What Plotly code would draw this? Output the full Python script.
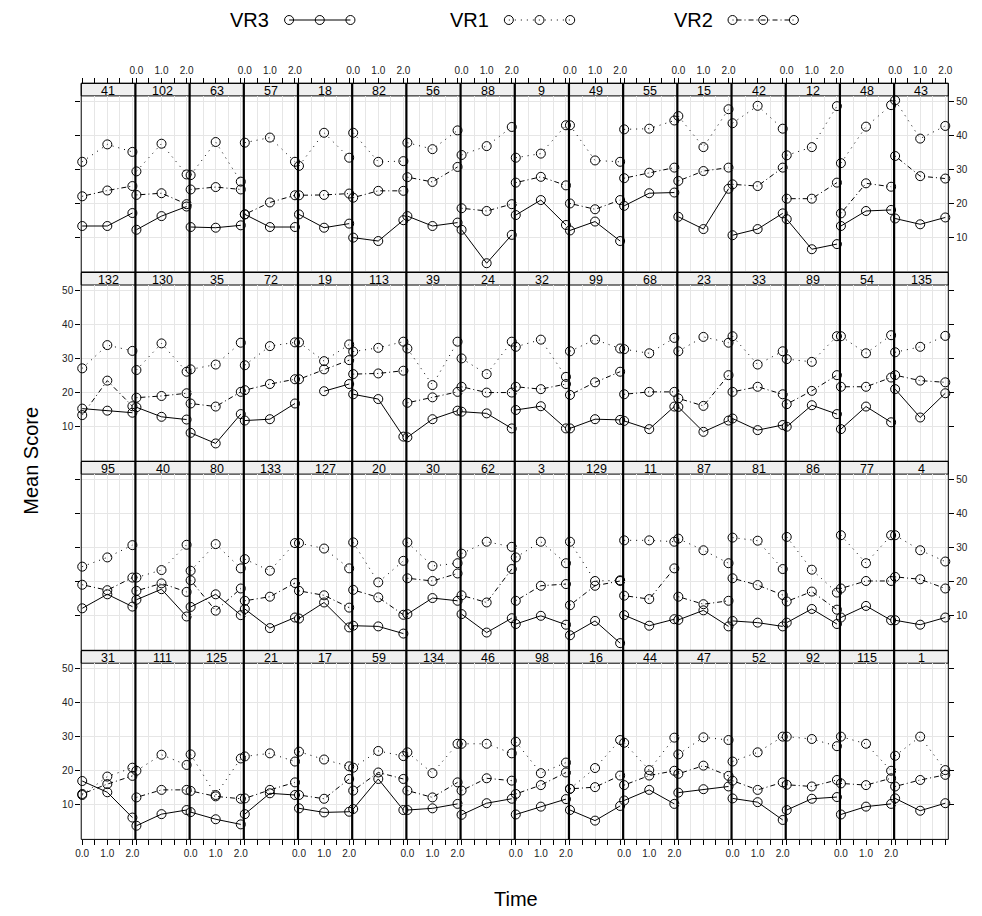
import plotly.graph_objects as go

# Subject panels, laid out row by row (4 rows x 16 columns)
subject_ids = [
    41, 102, 63, 57, 18, 82, 56, 88, 9, 49, 55, 15, 42, 12, 48, 43,
    132, 130, 35, 72, 19, 113, 39, 24, 32, 99, 68, 23, 33, 89, 54, 135,
    95, 40, 80, 133, 127, 20, 30, 62, 3, 129, 11, 87, 81, 86, 77, 4,
    31, 111, 125, 21, 17, 59, 134, 46, 98, 16, 44, 47, 52, 92, 115, 1,
]

time_points = [0.0, 1.0, 2.0]

# Mean score per subject at times 0, 1, 2
vr1 = [
    (32.2, 37.3, 35.1), (29.4, 37.5, 28.5), (28.3, 38.0, 26.4), (37.8, 39.3, 32.2),
    (31.0, 40.7, 33.4), (40.7, 32.2, 32.4), (37.8, 35.9, 41.4), (34.2, 36.8, 42.4),
    (33.4, 34.6, 42.9), (42.9, 32.6, 32.2), (41.7, 41.9, 44.3), (45.6, 36.5, 47.6),
    (43.5, 48.6, 41.9), (34.1, 36.5, 48.5), (31.8, 42.5, 48.8), (50.2, 39.0, 42.7),
    (27.1, 33.9, 32.2), (26.6, 34.4, 26.1), (26.8, 28.2, 34.6), (28.0, 33.6, 34.7),
    (34.7, 29.2, 34.1), (32.0, 33.1, 34.9), (32.9, 22.2, 34.9), (30.0, 25.4, 34.9),
    (33.4, 35.5, 24.6), (32.1, 35.5, 32.9), (32.7, 31.5, 36.0), (32.1, 36.3, 34.6),
    (36.5, 28.2, 32.1), (29.8, 29.0, 36.5), (36.5, 31.5, 36.8), (31.8, 33.4, 36.6),
    (24.4, 27.1, 30.7), (21.2, 23.4, 30.8), (23.2, 31.0, 23.9), (26.6, 23.2, 31.3),
    (31.3, 29.7, 23.9), (31.5, 19.8, 26.1), (31.5, 24.6, 25.4), (28.2, 31.7, 30.2),
    (27.1, 31.7, 25.4), (31.7, 20.2, 20.4), (32.1, 32.1, 31.7), (32.6, 29.2, 25.4),
    (32.9, 32.0, 23.7), (33.1, 23.5, 16.8), (33.6, 25.4, 33.6), (33.6, 29.2, 25.9),
    (12.9, 18.3, 20.9), (20.0, 24.7, 21.7), (24.8, 12.9, 23.6), (24.2, 25.1, 22.7),
    (25.6, 23.3, 21.3), (20.9, 25.8, 24.3), (25.4, 19.3, 27.9), (27.9, 27.9, 25.1),
    (28.5, 19.3, 22.4), (14.7, 20.8, 29.0), (28.2, 20.2, 29.7), (24.8, 29.8, 29.0),
    (22.7, 25.4, 30.0), (30.0, 29.3, 27.2), (30.0, 27.9, 20.0), (24.4, 30.0, 20.2),
]

vr2 = [
    (22.1, 23.8, 25.1), (22.5, 23.0, 19.8), (24.1, 24.8, 24.1), (16.8, 20.3, 22.4),
    (22.4, 22.5, 22.9), (21.7, 23.7, 23.7), (27.7, 26.3, 30.7), (18.6, 17.8, 19.8),
    (26.1, 27.8, 25.3), (20.0, 18.3, 21.0), (27.4, 29.0, 30.5), (26.6, 29.5, 30.5),
    (25.6, 25.1, 30.5), (21.4, 21.4, 26.1), (17.1, 25.9, 24.9), (33.9, 28.0, 27.3),
    (13.4, 23.5, 16.0), (18.5, 19.0, 19.8), (16.8, 15.9, 20.2), (20.7, 22.5, 23.9),
    (23.9, 26.8, 29.5), (25.4, 25.6, 26.4), (17.0, 18.6, 20.2), (21.7, 20.0, 20.0),
    (21.7, 21.0, 22.5), (19.3, 23.0, 26.1), (19.5, 20.2, 20.2), (18.3, 16.1, 25.1),
    (20.2, 21.7, 19.5), (16.6, 20.5, 25.1), (21.7, 21.7, 24.4), (25.1, 23.5, 23.0),
    (19.1, 17.5, 21.2), (17.3, 19.5, 17.0), (20.4, 11.5, 18.0), (14.4, 15.6, 19.6),
    (17.3, 16.0, 12.4), (17.6, 15.4, 10.3), (21.0, 20.2, 22.4), (16.0, 13.9, 23.7),
    (14.4, 18.8, 19.3), (13.1, 18.8, 20.2), (15.9, 14.9, 23.9), (15.6, 13.4, 14.4),
    (21.0, 19.0, 16.1), (14.2, 17.1, 11.8), (18.0, 20.2, 20.2), (21.4, 20.7, 18.0),
    (13.2, 16.1, 18.5), (12.2, 14.4, 14.4), (14.1, 12.5, 11.8), (11.9, 14.4, 16.6),
    (12.9, 11.8, 17.6), (14.2, 19.5, 17.6), (14.2, 12.2, 16.6), (14.2, 17.8, 17.1),
    (13.2, 15.8, 19.5), (14.7, 15.2, 18.6), (15.8, 18.6, 20.0), (19.1, 21.5, 18.5),
    (17.1, 14.4, 16.6), (15.9, 15.4, 17.3), (16.3, 15.8, 17.8), (15.4, 17.3, 18.8),
]

vr3 = [
    (13.4, 13.4, 17.2), (12.3, 16.3, 19.1), (13.1, 12.9, 13.6), (16.8, 13.1, 13.1),
    (16.8, 12.9, 14.1), (10.0, 9.0, 15.1), (16.3, 13.4, 14.4), (12.3, 2.5, 10.8),
    (16.6, 21.0, 13.7), (12.1, 14.7, 9.0), (19.3, 23.0, 23.2), (16.1, 12.5, 24.3),
    (10.7, 12.5, 17.1), (15.4, 6.6, 8.1), (13.4, 17.8, 18.1), (15.6, 13.9, 15.9),
    (15.3, 14.7, 14.1), (15.7, 12.9, 12.1), (8.2, 5.1, 13.7), (11.8, 12.2, 16.8),
    (None, 20.4, 22.5), (19.5, 18.1, 7.1), (6.9, 12.2, 14.7), (14.4, 13.9, 9.5),
    (14.9, 16.0, 9.5), (9.5, 12.2, 12.0), (11.7, 9.3, 15.9), (15.8, 8.5, 11.8),
    (12.4, 9.0, 10.5), (10.0, 16.3, 13.7), (9.3, 15.9, 11.3), (21.0, 12.7, 19.8),
    (12.2, 16.3, 12.7), (14.7, 17.8, 9.8), (12.6, 16.3, 10.2), (12.0, 6.4, 9.5),
    (9.2, 13.9, 6.6), (7.1, 6.9, 4.8), (10.5, 15.2, 14.4), (10.5, 5.1, 9.3),
    (7.6, 10.0, 7.4), (4.3, 8.5, 2.0), (10.2, 7.1, 9.0), (8.8, 11.6, 6.9),
    (8.5, 8.0, 6.9), (8.0, 12.0, 7.6), (9.5, 12.9, 8.7), (8.7, 7.4, 9.5),
    (17.0, 13.7, 6.3), (3.9, 7.3, 8.5), (7.9, 5.8, 4.3), (7.3, 13.4, 12.9),
    (9.0, 7.8, 8.0), (8.8, 17.6, 8.5), (8.5, 9.0, 10.3), (7.1, 10.5, 11.8),
    (7.2, 9.5, 11.7), (8.5, 5.4, 9.7), (11.3, 14.4, 10.3), (13.6, 14.6, 15.4),
    (11.9, 10.8, 5.6), (8.5, 11.8, 12.3), (7.2, 9.5, 10.3), (11.9, 8.3, 10.5),
]

x_ticks = [0.0, 0.5, 1.0, 1.5, 2.0]
x_ticktext = ["0.0", "", "1.0", "", "2.0"]
y_ticks = [10, 20, 30, 40, 50]

# Page geometry (pixels)
W, H = 982, 916
NCOL, NROW = 16, 4
LEFT0, PW = 76.0, 54.75
STRIP_TOP0, ROW_PITCH, STRIP_H, PH = 83.3, 189.1, 12.6, 176.2
FONT = "Liberation Sans, Arial, sans-serif"
GRID = "#e6e6e6"


def pxx(x):
    return x / W


def pxy(y):
    return 1 - y / H


series = [
    ("VR3", vr3, "solid"),
    ("VR1", vr1, "1px,5px"),
    ("VR2", vr2, "1px,3px,5px,3px"),
]

fig = go.Figure()
layout = {}
shapes = []
annotations = []

for k, sid in enumerate(subject_ids):
    r, c = divmod(k, NCOL)
    n = k + 1
    xname = "x" if n == 1 else f"x{n}"
    yname = "y" if n == 1 else f"y{n}"
    left = LEFT0 + PW * c
    right = left + PW
    strip_top = STRIP_TOP0 + ROW_PITCH * r
    panel_top = strip_top + STRIP_H
    panel_bot = panel_top + PH

    for name, vals, dash in series:
        fig.add_trace(go.Scatter(
            x=time_points, y=list(vals[k]), mode="lines+markers",
            xaxis=xname, yaxis=yname, name=name, showlegend=False,
            line=dict(color="black", width=1, dash=dash),
            marker=dict(symbol="circle-open", size=9, color="black",
                        line=dict(width=1, color="black")),
            connectgaps=False, cliponaxis=False,
        ))

    xa = dict(domain=[pxx(left), pxx(right)], range=[-0.04, 2.12],
              tickvals=x_ticks, showgrid=True, gridcolor=GRID, gridwidth=1,
              zeroline=False, showline=False, fixedrange=True,
              tickfont=dict(family=FONT, size=10, color="#222"))
    if r == 0:
        xa.update(anchor="free", position=pxy(strip_top), side="top",
                  ticks="outside", ticklen=5, tickcolor="black", tickwidth=1,
                  ticktext=x_ticktext if c % 2 == 1 else [""] * 5)
    elif r == NROW - 1:
        xa.update(anchor=yname, side="bottom", ticks="outside", ticklen=5,
                  tickcolor="black", tickwidth=1,
                  ticktext=x_ticktext if c % 2 == 0 else [""] * 5)
    else:
        xa.update(anchor=yname, ticks="", showticklabels=False)

    ya = dict(domain=[pxy(panel_bot), pxy(panel_top)], range=[-0.1, 51.5],
              tickvals=y_ticks, showgrid=True, gridcolor=GRID, gridwidth=1,
              zeroline=False, showline=False, fixedrange=True, anchor=xname,
              tickfont=dict(family=FONT, size=10, color="#222"))
    if c == 0:
        ya.update(side="left", ticks="outside", ticklen=5, tickcolor="black",
                  ticktext=[str(v) for v in y_ticks] if r % 2 == 1 else [""] * 5)
    elif c == NCOL - 1:
        ya.update(side="right", ticks="outside", ticklen=5, tickcolor="black",
                  ticktext=[str(v) for v in y_ticks] if r % 2 == 0 else [""] * 5)
    else:
        ya.update(ticks="", showticklabels=False)

    layout["xaxis" if n == 1 else f"xaxis{n}"] = xa
    layout["yaxis" if n == 1 else f"yaxis{n}"] = ya

    # strip with the subject id
    shapes.append(dict(type="rect", xref="paper", yref="paper",
                       x0=pxx(left), x1=pxx(right),
                       y0=pxy(panel_top), y1=pxy(strip_top),
                       fillcolor="#efefef", line=dict(color="black", width=1),
                       layer="below"))
    annotations.append(dict(text=str(sid), xref="paper", yref="paper",
                            x=pxx((left + right) / 2),
                            y=pxy(strip_top + STRIP_H / 2 + 1.5),
                            showarrow=False, xanchor="center", yanchor="middle",
                            font=dict(family=FONT, size=12.5, color="black")))

# row frames
for r in range(NROW):
    strip_top = STRIP_TOP0 + ROW_PITCH * r
    panel_bot = strip_top + STRIP_H + PH
    shapes.append(dict(type="rect", xref="paper", yref="paper",
                       x0=pxx(LEFT0), x1=pxx(LEFT0 + PW * NCOL),
                       y0=pxy(panel_bot), y1=pxy(strip_top),
                       line=dict(color="black", width=1), layer="above"))

# heavy column separators
grid_top = STRIP_TOP0
grid_bot = STRIP_TOP0 + ROW_PITCH * (NROW - 1) + STRIP_H + PH
for c in range(1, NCOL):
    xline = LEFT0 + PW * c
    shapes.append(dict(type="line", xref="paper", yref="paper",
                       x0=pxx(xline), x1=pxx(xline),
                       y0=pxy(grid_bot), y1=pxy(grid_top),
                       line=dict(color="black", width=2.2), layer="above"))

# key at the top
KEY_Y = 20
key_axis = len(subject_ids) + 1
layout[f"xaxis{key_axis}"] = dict(domain=[0, 1], range=[0, W], visible=False,
                                  fixedrange=True, anchor=f"y{key_axis}")
layout[f"yaxis{key_axis}"] = dict(domain=[pxy(40), 1], range=[40, 0], visible=False,
                                  fixedrange=True, anchor=f"x{key_axis}")
key_text_right = [268, 490, 716]
for (name, _, dash), tx in zip(series, key_text_right):
    cx = tx + 18
    fig.add_trace(go.Scatter(
        x=[cx, cx + 31, cx + 62], y=[KEY_Y] * 3, mode="lines+markers",
        xaxis=f"x{key_axis}", yaxis=f"y{key_axis}", showlegend=False,
        line=dict(color="black", width=1, dash=dash),
        marker=dict(symbol="circle-open", size=9, color="black",
                    line=dict(width=1, color="black")),
        hoverinfo="skip",
    ))
    annotations.append(dict(text=name, xref="paper", yref="paper",
                            x=pxx(tx), y=pxy(KEY_Y), xanchor="right",
                            yanchor="middle", showarrow=False,
                            font=dict(family=FONT, size=20, color="black")))

# axis titles
annotations.append(dict(text="Mean Score", xref="paper", yref="paper",
                        x=pxx(25), y=pxy(461), textangle=-90, showarrow=False,
                        xanchor="center", yanchor="middle",
                        font=dict(family=FONT, size=20, color="black")))
annotations.append(dict(text="Time", xref="paper", yref="paper",
                        x=pxx(515), y=pxy(899), showarrow=False,
                        xanchor="center", yanchor="middle",
                        font=dict(family=FONT, size=20, color="black")))

fig.update_layout(
    width=W, height=H, margin=dict(l=0, r=0, t=0, b=0),
    paper_bgcolor="white", plot_bgcolor="white",
    showlegend=False, shapes=shapes, annotations=annotations,
    font=dict(family=FONT, color="black"),
    **layout,
)

fig.write_html("out.html")
